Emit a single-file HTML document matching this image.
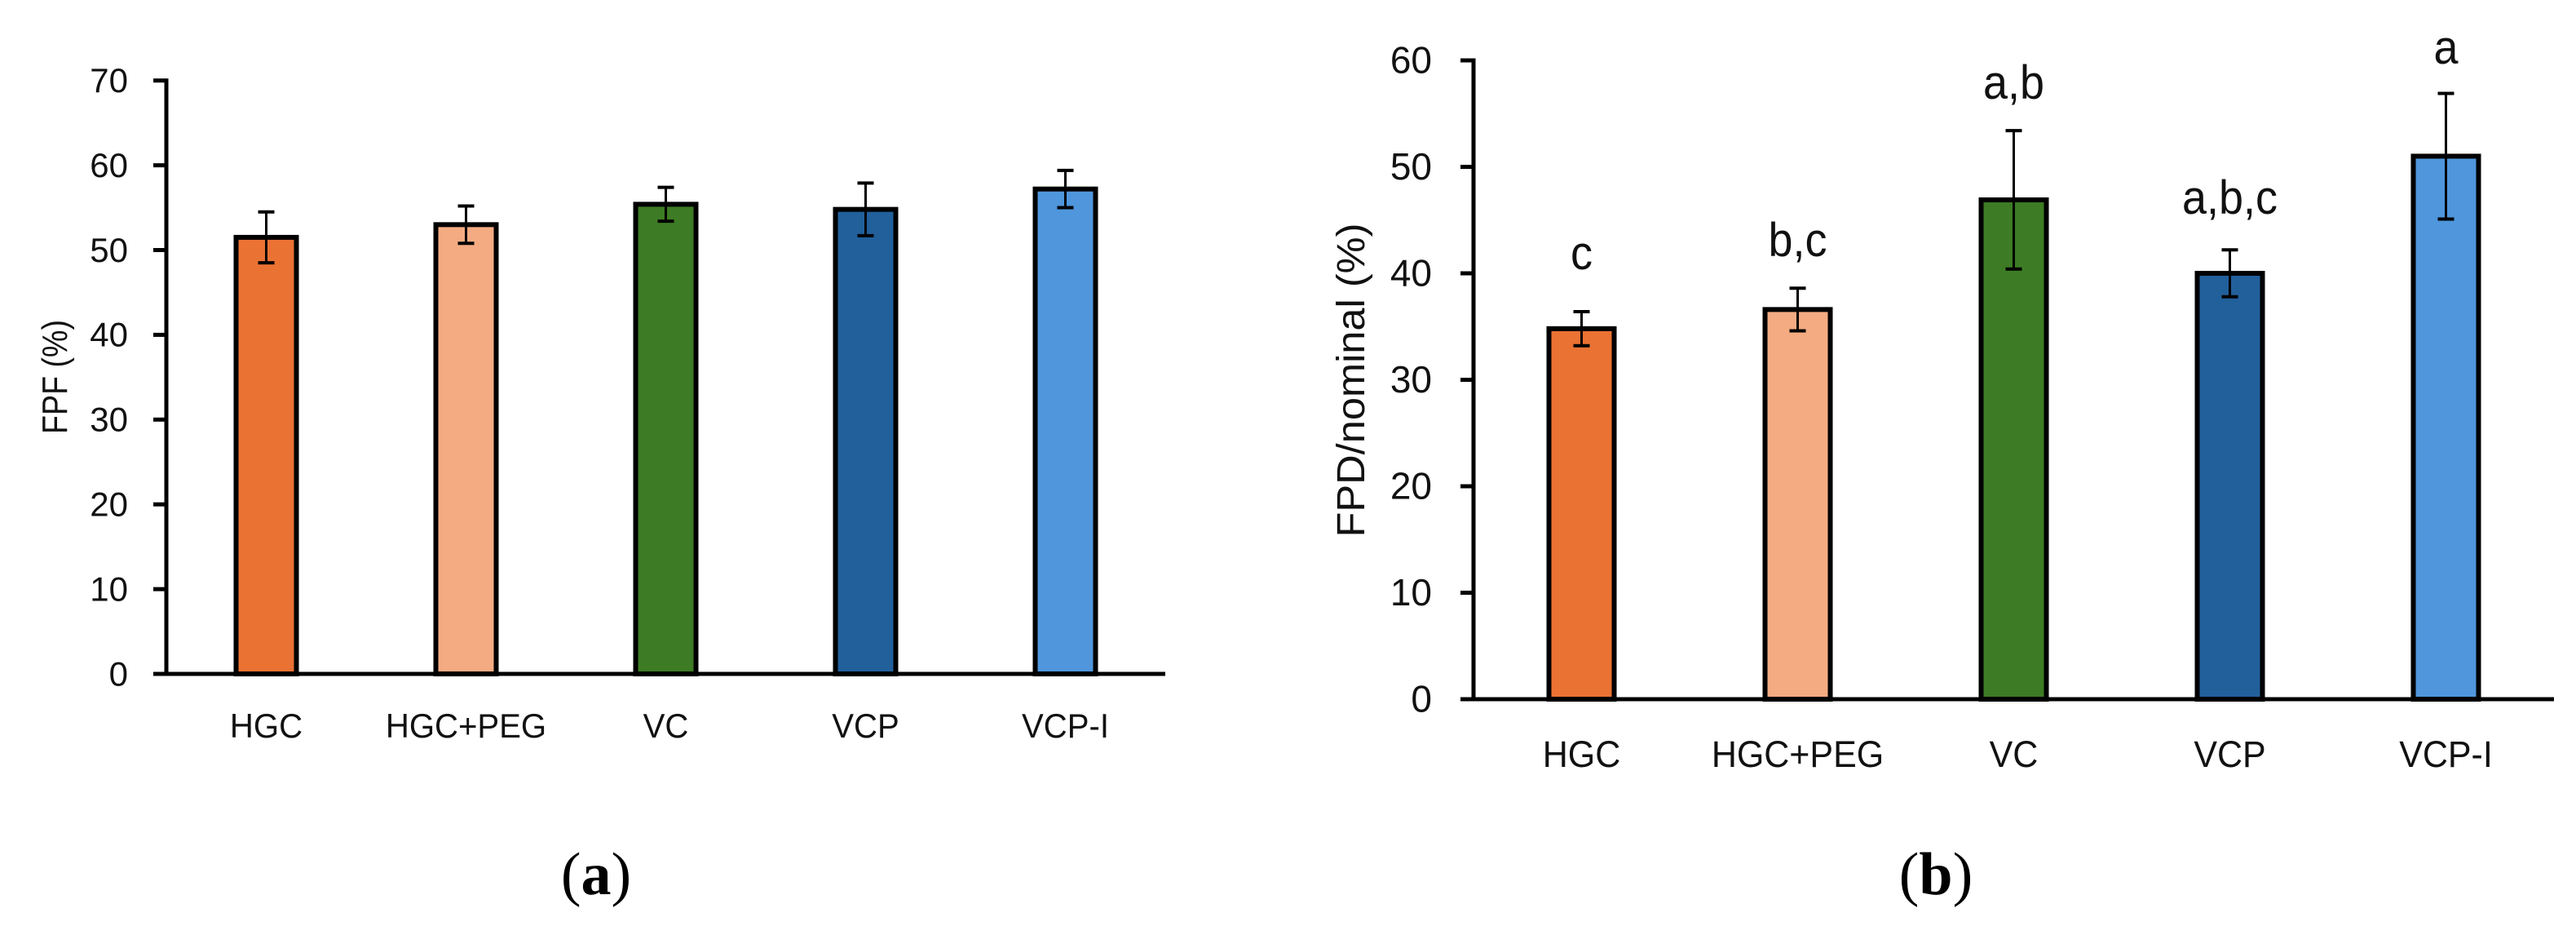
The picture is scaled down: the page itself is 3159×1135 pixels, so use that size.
<!DOCTYPE html>
<html lang="en">
<head>
<meta charset="utf-8">
<title>FPF and FPD/nominal bar charts</title>
<style>
html,body{margin:0;padding:0;background:#fff;width:3159px;height:1135px;overflow:hidden}
svg{display:block}
text{font-family:"Liberation Sans",sans-serif;fill:#111}
</style>
</head>
<body>
<svg id="figure" xmlns="http://www.w3.org/2000/svg" width="3159" height="1135" viewBox="0 0 3159 1135">
  <rect width="3159" height="1135" fill="#fff"/>
  <g id="panel-a"></g>
  <g id="panel-b"></g>
  <text x="731" y="1096" text-anchor="middle" font-size="74" style="font-family:'Liberation Serif',serif;fill:#000">(<tspan font-weight="bold">a</tspan>)</text>
  <text x="2374" y="1096" text-anchor="middle" font-size="74" style="font-family:'Liberation Serif',serif;fill:#000">(<tspan font-weight="bold">b</tspan>)</text>
</svg>
<script>
const categories = ["HGC", "HGC+PEG", "VC", "VCP", "VCP-I"];
const barColors = ["#EA7233", "#F4AB82", "#3D7C24", "#22609C", "#4F96DC"];

const fpfValues = [51.5, 53.0, 55.4, 54.8, 57.2];
const fpfErrors = [3.0, 2.2, 2.0, 3.1, 2.2];
const fpfTicks = [0, 10, 20, 30, 40, 50, 60, 70];

const fpdValues = [34.8, 36.6, 46.9, 40.0, 51.0];
const fpdErrors = [1.6, 2.0, 6.5, 2.2, 5.9];
const fpdTicks = [0, 10, 20, 30, 40, 50, 60];
const fpdLetters = ["c", "b,c", "a,b", "a,b,c", "a"];
const fpdLetterClearance = [4.0, 3.0, 3.0, 3.4, 2.8];

const SVGNS = "http://www.w3.org/2000/svg";

function make(parent, tag, attrs, content) {
  const el = document.createElementNS(SVGNS, tag);
  for (const k in attrs) el.setAttribute(k, attrs[k]);
  if (content !== undefined) el.textContent = content;
  parent.appendChild(el);
  return el;
}

function condense(el, factor) {
  el.setAttribute("textLength", el.getComputedTextLength() * factor);
  el.setAttribute("lengthAdjust", "spacingAndGlyphs");
}

function drawChart(root, cfg) {
  const yMax = cfg.ticks[cfg.ticks.length - 1];
  const yScale = v => cfg.y0 - (v - cfg.ticks[0]) * (cfg.y0 - cfg.yTop) / (yMax - cfg.ticks[0]);
  const slot = (cfg.x1 - cfg.x0) / cfg.categories.length;
  const xScale = i => cfg.x0 + slot * (i + 0.5);

  cfg.values.forEach((v, i) => {
    const r = make(root, "rect", {
      x: xScale(i) - cfg.barW / 2, y: yScale(v), width: cfg.barW, height: cfg.y0 - yScale(v),
      fill: cfg.colors[i], stroke: "#000", "stroke-width": 6
    });
    
    
  });

  const yAxis = make(root, "line", {x1: cfg.x0, x2: cfg.x0, y1: yScale(yMax) - 2.5, y2: cfg.y0 + 2.5, stroke: "#000", "stroke-width": 5});
  
  
  const xAxis = make(root, "line", {x1: cfg.x0 - 15, x2: cfg.x1, y1: cfg.y0, y2: cfg.y0, stroke: "#000", "stroke-width": 5});
  
  

  cfg.ticks.forEach(t => {
    const m = make(root, "line", {x1: cfg.x0 - 16, x2: cfg.x0, y1: yScale(t), y2: yScale(t), stroke: "#000", "stroke-width": 5});
    
    
    const l = make(root, "text", {x: cfg.tickRight, y: yScale(t) + cfg.tickFont * 0.34, "text-anchor": "end", "font-size": cfg.tickFont}, String(t));
    
    
  });

  cfg.values.forEach((v, i) => {
    const top = yScale(v + cfg.errors[i]), bot = yScale(v - cfg.errors[i]), x = xScale(i);
    const g = make(root, "g", {stroke: "#000", "stroke-width": 3, fill: "none"});
    
    
    make(g, "line", {x1: x, x2: x, y1: top, y2: bot});
    make(g, "line", {x1: x - 10, x2: x + 10, y1: top, y2: top, "stroke-width": 4});
    make(g, "line", {x1: x - 10, x2: x + 10, y1: bot, y2: bot, "stroke-width": 4});
  });

  cfg.categories.forEach((c, i) => {
    const l = make(root, "text", {x: xScale(i), y: cfg.catBase, "text-anchor": "middle", "font-size": cfg.catFont}, c);
    condense(l, 0.955);
    
    
  });

  if (cfg.letters) {
    cfg.letters.forEach((s, i) => {
      const level = cfg.values[i] + cfg.errors[i] + cfg.clearance[i];
      const l = make(root, "text", {x: xScale(i), y: yScale(level), "text-anchor": "middle", "font-size": 58}, s);
      condense(l, 0.93);
      
      
    });
  }

  const t = make(root, "text", {transform: "translate(" + cfg.titleX + "," + cfg.titleY + ") rotate(-90)", "text-anchor": "middle", "font-size": cfg.titleFont, textLength: cfg.titleLen, lengthAdjust: "spacingAndGlyphs"}, cfg.title);
  
  
}

drawChart(document.getElementById("panel-a"), {
  categories: categories, colors: barColors, values: fpfValues, errors: fpfErrors, ticks: fpfTicks,
  x0: 204, x1: 1429, y0: 826, yTop: 98.7, barW: 74, tickFont: 42, catFont: 42, tickRight: 157, catBase: 904,
  title: "FPF (%)", titleX: 82, titleY: 462, titleFont: 44, titleLen: 140
});

drawChart(document.getElementById("panel-b"), {
  categories: categories, colors: barColors, values: fpdValues, errors: fpdErrors, ticks: fpdTicks,
  x0: 1807, x1: 3132, y0: 857, yTop: 74, barW: 80, tickFont: 46, catFont: 45, tickRight: 1756, catBase: 940,
  letters: fpdLetters, clearance: fpdLetterClearance,
  title: "FPD/nominal (%)", titleX: 1673, titleY: 466, titleFont: 48, titleLen: 385
});
</script>
</body>
</html>
